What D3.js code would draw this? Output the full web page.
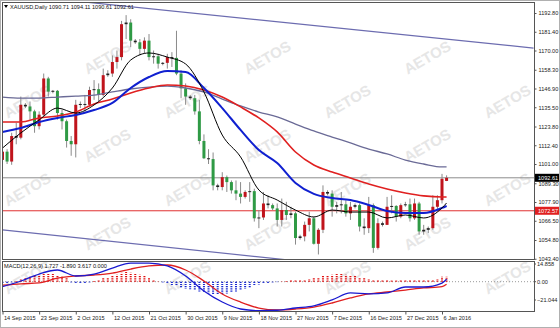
<html>
<head>
<meta charset="utf-8">
<script src="https://d3js.org/d3.v7.min.js"></script>
<style>
  body { margin:0; background:#fff; }
  svg text { font-family:"Liberation Sans", Arial, sans-serif; }
</style>
</head>
<body>
<div id="chart"></div>
<script>
// ---- data ----
var dateLabels = ["14 Sep 2015","23 Sep 2015","2 Oct 2015","12 Oct 2015","21 Oct 2015","30 Oct 2015","9 Nov 2015","18 Nov 2015","27 Nov 2015","7 Dec 2015","16 Dec 2015","27 Dec 2015","6 Jan 2016"];
var labelBars = [0,8,16,24,32,40,48,56,64,72,80,88,96];

var opens  = [1103.5,1108.5,1102.5,1118,1117,1137,1136,1133,1124,1131,1153,1145,1145.5,1132,1127,1115,1113,1137,1137.5,1137,1146,1146.5,1143,1155,1156,1163,1166,1186,1187,1176,1175,1171,1176,1166,1166.5,1162,1162.5,1166,1165.5,1156,1147,1142,1141,1133,1115,1104.5,1104,1088,1087,1093,1090,1085,1083,1081,1084,1084.5,1068,1068.5,1077,1076,1074,1067,1073,1070,1071,1056,1057,1064,1068,1052.5,1061,1084,1083,1075,1076,1076.5,1071,1075,1076,1063,1062,1076,1050,1065,1064,1075,1075.5,1069,1076,1076.5,1068,1077,1060,1061,1062,1075,1079,1090.71];
var highs  = [1111,1110,1120,1126,1142,1138,1139,1134,1133,1156,1154,1146,1146,1134,1128,1118,1140,1139,1143,1148,1152,1150,1159,1158,1167,1170,1188,1191.5,1189,1177,1177,1178,1180,1170,1168,1163,1168,1169,1182,1158,1150,1143,1143,1140,1119,1110,1108,1089,1096,1094,1091,1091,1090,1085,1090,1086,1073,1084,1082,1077,1077,1080,1078,1075,1072,1058,1066,1072,1069,1062,1088,1085,1085,1078,1084,1079,1078,1077,1077,1068,1081,1077,1068,1066,1081,1082,1076,1077,1078,1080,1080,1078,1064,1063,1082,1082,1095,1094.11];
var lows   = [1102,1101,1100.5,1113,1116,1135,1128,1120,1122,1130,1142,1144,1128,1122,1111,1106,1105,1135,1133,1136,1140,1139,1142,1154,1154,1159,1164,1177,1172,1174,1167,1168,1164,1162,1159,1161,1159,1160,1155,1141,1137,1140,1131,1113,1104,1101,1085,1085,1085,1084,1083,1079,1077,1080,1078,1066,1062,1067,1074,1073,1063,1063,1067,1068,1052,1055,1054,1060,1052,1046,1059,1082,1069,1071,1071,1069,1067,1074,1060,1058,1059,1047,1049,1063,1064,1071,1066,1068,1075,1066,1067,1058,1058,1059,1061,1072,1077,1090.61];
var closes = [1108.5,1102.5,1118,1117,1137,1136,1133,1124,1131,1153,1145,1145.5,1132,1127,1115,1113,1137,1137.5,1137,1146,1146.5,1143,1155,1156,1163,1166,1186,1187,1176,1175,1171,1176,1166,1166.5,1162,1162.5,1166,1165.5,1156,1147,1142,1141,1133,1115,1104.5,1104,1088,1087,1093,1090,1085,1083,1081,1084,1084.5,1068,1068.5,1077,1076,1074,1067,1073,1070,1071,1056,1057,1064,1068,1052.5,1061,1084,1083,1075,1076,1076.5,1071,1075,1076,1063,1062,1076,1050,1065,1064,1075,1075.5,1069,1076,1076.5,1068,1077,1060,1061,1062,1075,1079,1092,1092.61];

// moving averages, sampled every 4 bars
var maBars = [0,4,8,12,16,20,24,28,32,36,40,44,48,52,56,60,64,68,72,76,80,84,88,92,96,97];
var maBlack = [1110.7,1119.9,1127.8,1135.0,1132.0,1136.9,1147.2,1164.2,1168.5,1166.0,1161.8,1144.8,1118.6,1105.3,1085.2,1079.1,1073.0,1068.8,1073.0,1071.8,1071.8,1068.2,1070.0,1068.2,1074.3,1077.3];
var maBlue  = [1120.5,1122.9,1126.5,1129,1130.8,1133.8,1138.1,1147.2,1153.9,1157.5,1156.9,1147.2,1135,1121.7,1109.5,1101.6,1089.5,1082.8,1080.3,1079.1,1076.1,1072.4,1071.2,1071.2,1074.3,1075.5];
var maRed   = [1126.5,1126.5,1129,1130.2,1132.6,1137.5,1140.5,1144.2,1147.2,1149.0,1148.4,1146.0,1141.7,1135.7,1129.0,1120.5,1108.3,1100.4,1096.1,1092.5,1088.8,1085.8,1083.4,1081.6,1080.9,1080.9];
var maGray  = [1141.7,1141.1,1141.1,1141.7,1142.3,1142.9,1144.8,1146.6,1147.8,1148.4,1147.2,1144.8,1140.5,1136.3,1132.6,1129.6,1125.3,1121.1,1117.4,1113.8,1110.1,1107.1,1103.4,1101.0,1099.2,1099.2];

// MACD(12,26,9)
var macdMain   = [-3.5,0.5,5.5,8.4,4.1,5.5,9.8,13.4,13.4,11.3,4.1,-6.7,-14.6,-19.6,-20.8,-20.5,-18.9,-17.4,-13.1,-8.1,-8.8,-8.1,-3.8,-3.8,-1.0,1.727];
var macdSignal = [-2.5,-1.5,-0.9,2.6,4.1,4.8,6.2,9.1,11.3,12.0,8.4,0.5,-8.8,-14.6,-18.9,-20.3,-19.6,-18.2,-15.3,-11.7,-8.8,-7.4,-6.0,-4.5,-3.5,-1.89];
var macdHist = [-1.5,-1.2,-0.5,0.5,2,3,3.5,4,4.5,5.5,6,5.5,4.5,3.5,2.5,-0.5,-1.5,-1.5,-1.2,-0.5,0.5,1.5,2.5,3,4,5,6.5,7,6.5,6,5,4,2.5,1,0.2,-0.5,-1.5,-2.5,-3,-4.5,-5,-5.5,-6,-7,-8,-8.5,-9,-9.5,-9,-8.5,-8,-7,-6,-5,-4,-3,-2,-1.5,-1,-0.5,-0.3,0.2,0.5,1,1.2,1,1.5,2,2.5,3,4,4.5,5,5.5,5.5,5,4.5,4,3,2.5,2,1.5,1.2,1,1,0.8,0.8,1,1,1.2,1.5,1.5,1.5,1.2,1.5,2,3.6,3.617];

var priceTicks = [1192.80,1181.40,1170.00,1158.30,1146.90,1135.50,1123.80,1112.40,1101.00,1089.30,1077.90,1066.50,1054.80,1043.40];
var macdTicks = [14.858, 0, -21.044];
var bidPrice = 1092.61, levelPrice = 1072.57;
// channel lines as [bar, price]
var channelUpper = [[0,1204.6],[116,1171.5]];
var channelLower = [[0,1060.9],[65,1041.9]];
var titleText = "XAUUSD,Daily  1090.71 1094.11 1090.61 1092.61";
var macdText = "MACD(12,26,9) 1.727 -1.890 3.617 0.000";

// ---- layout ----
var W = 560, H = 328;
var left = 2, right = 534, mainTop = 2, mainBottom = 259, macdTop = 261, macdBottom = 311;
var upCol = "#c0141c", downCol = "#2f9a45", wickCol = "#8a8a8a";
var fs = 5.6;

var svg = d3.select("#chart").append("svg").attr("width", W).attr("height", H);
svg.append("rect").attr("width", W).attr("height", H).attr("fill", "#fff");

var x = d3.scaleLinear().domain([0, 96]).range([2.5, 442]);
var y = d3.scaleLinear().domain([1043.25, 1198.88]).range([mainBottom, 3]);
var ym = d3.scaleLinear().domain([-21.044, 14.858]).range([macdBottom, macdTop]);

// watermark, tiled, kept inside the picture
var wm = svg.append("g").attr("fill", "#e6e6e6").attr("font-weight", "bold").attr("font-size", 15);
for (var r = 0; r < 8; r++) {
  for (var c = -1; c < 5; c++) {
    var cx = 30 + c * 160 + (r % 2) * 80, cy = 18 + r * 44;
    if (cx < 30 || cx > W - 30 || cy < 22 || cy > H - 22) continue;
    wm.append("text").attr("transform", "translate(" + cx + "," + cy + ") rotate(-30)")
      .attr("text-anchor", "middle").text("AETOS");
  }
}

var defs = svg.append("defs");
defs.append("clipPath").attr("id", "cm").append("rect")
  .attr("x", left).attr("y", mainTop).attr("width", right - left).attr("height", mainBottom - mainTop);
defs.append("clipPath").attr("id", "cd").append("rect")
  .attr("x", left).attr("y", macdTop).attr("width", right - left).attr("height", macdBottom - macdTop);

var main = svg.append("g").attr("clip-path", "url(#cm)");

// channel
var chLine = d3.line().x(function(d){ return x(d[0]); }).y(function(d){ return y(d[1]); });
[channelUpper, channelLower].forEach(function(ch){
  main.append("path").attr("d", chLine(ch)).attr("fill", "none")
    .attr("stroke", "#6c6cb0").attr("stroke-width", 1.2);
});

// horizontal levels
main.append("line").attr("x1", left).attr("x2", right).attr("y1", y(bidPrice)).attr("y2", y(bidPrice))
  .attr("stroke", "#8c8c8c").attr("stroke-width", 1);
main.append("line").attr("x1", left).attr("x2", right).attr("y1", y(levelPrice)).attr("y2", y(levelPrice))
  .attr("stroke", "#e03030").attr("stroke-width", 1);

// candles
var bars = d3.range(opens.length);
main.append("g").selectAll("line").data(bars).join("line")
  .attr("x1", function(i){ return x(i); }).attr("x2", function(i){ return x(i); })
  .attr("y1", function(i){ return y(highs[i]); }).attr("y2", function(i){ return y(lows[i]); })
  .attr("stroke", wickCol).attr("stroke-width", 1);
main.append("g").selectAll("rect").data(bars).join("rect")
  .attr("x", function(i){ return x(i) - 1.5; }).attr("width", 3)
  .attr("y", function(i){ return y(Math.max(opens[i], closes[i])); })
  .attr("height", function(i){ return Math.max(1, Math.abs(y(opens[i]) - y(closes[i]))); })
  .attr("fill", function(i){
    if (Math.abs(closes[i] - opens[i]) < 1.2) return "#222";
    return closes[i] > opens[i] ? upCol : downCol; });

// moving averages
var maLine = d3.line().curve(d3.curveMonotoneX)
  .x(function(d, i){ return x(maBars[i]); }).y(function(d){ return y(d); });
[[maGray, "#6a6a96", 1.3], [maRed, "#e02020", 1.6], [maBlue, "#1020d0", 2], [maBlack, "#000", 1]].forEach(function(m){
  main.append("path").attr("d", maLine(m[0])).attr("fill", "none")
    .attr("stroke", m[1]).attr("stroke-width", m[2]);
});

// MACD panel
var md = svg.append("g").attr("clip-path", "url(#cd)");
md.append("line").attr("x1", left).attr("x2", right).attr("y1", ym(0)).attr("y2", ym(0))
  .attr("stroke", "#999").attr("stroke-dasharray", "1,2");
md.append("g").selectAll("line").data(bars).join("line")
  .attr("x1", function(i){ return x(i); }).attr("x2", function(i){ return x(i); })
  .attr("y1", ym(0)).attr("y2", function(i){ return ym(macdHist[i]); })
  .attr("stroke", function(i){ return macdHist[i] >= 0 ? "#e01010" : "#1a2ad0"; })
  .attr("stroke-width", 2).attr("stroke-dasharray", "1.2,1");
var mLine = d3.line().curve(d3.curveMonotoneX)
  .x(function(d, i){ return x(maBars[i]); }).y(function(d){ return ym(d); });
md.append("path").attr("d", mLine(macdSignal)).attr("fill", "none").attr("stroke", "#e02020").attr("stroke-width", 1.3);
md.append("path").attr("d", mLine(macdMain)).attr("fill", "none").attr("stroke", "#1a1ad0").attr("stroke-width", 1.3);

// frames
svg.append("rect").attr("x", 0.5).attr("y", 0.5).attr("width", W - 1).attr("height", H - 1)
  .attr("fill", "none").attr("stroke", "#b0b0b0");
[[mainTop, mainBottom], [macdTop, macdBottom]].forEach(function(p){
  svg.append("rect").attr("x", left + 0.5).attr("y", p[0] + 0.5).attr("width", right - left)
    .attr("height", p[1] - p[0]).attr("fill", "none").attr("stroke", "#555");
});

// price axis
var ay = svg.append("g").attr("transform", "translate(" + (right + 0.5) + ",0)")
  .call(d3.axisRight(y).tickValues(priceTicks).tickSize(2).tickPadding(2).tickFormat(d3.format(".2f")));
ay.select(".domain").remove();
ay.selectAll("text").attr("font-size", fs).attr("fill", "#222").attr("font-family", null);
ay.selectAll("line").attr("stroke", "#555");

// price boxes
[[bidPrice, "#000"], [levelPrice, "#e02020"]].forEach(function(b){
  var g = svg.append("g").attr("transform", "translate(" + (right + 1) + "," + y(b[0]) + ")");
  g.append("rect").attr("x", 0).attr("y", -4).attr("width", 24).attr("height", 8).attr("fill", b[1]);
  g.append("text").attr("x", 3).attr("y", 2).attr("font-size", fs).attr("fill", "#fff").text(b[0].toFixed(2));
});

// MACD axis labels
var mfmt = function(v){ return v === 0 ? "0.00" : d3.format(".3f")(v); };
svg.append("g").selectAll("text").data(macdTicks).join("text")
  .attr("x", right + 3)
  .attr("y", function(v, i){ return i === 0 ? ym(v) + 5 : (i === 2 ? ym(v) - 9 : ym(v) + 2); })
  .attr("font-size", fs).attr("fill", "#222").text(mfmt);
svg.append("g").selectAll("line").data(macdTicks).join("line")
  .attr("x1", right).attr("x2", right + 2)
  .attr("y1", function(v, i){ return i === 0 ? ym(v) + 3 : (i === 2 ? ym(v) - 11 : ym(v)); })
  .attr("y2", function(v, i){ return i === 0 ? ym(v) + 3 : (i === 2 ? ym(v) - 11 : ym(v)); })
  .attr("stroke", "#555");

// time axis
var ax = svg.append("g").attr("transform", "translate(0," + (macdBottom + 0.5) + ")")
  .call(d3.axisBottom(x).tickValues(labelBars).tickSize(3).tickPadding(2)
    .tickFormat(function(d, i){ return dateLabels[i]; }));
ax.select(".domain").remove();
ax.selectAll("line").attr("stroke", "#555");
ax.selectAll("text").attr("font-size", fs).attr("fill", "#222").attr("font-family", null)
  .attr("text-anchor", "start").attr("dx", 1);

// titles
svg.append("path").attr("d", "M4,5 L8,5 L6,8 Z").attr("fill", "#000");
svg.append("text").attr("x", 10).attr("y", 9).attr("font-size", fs).attr("fill", "#111").text(titleText);
svg.append("text").attr("x", 4).attr("y", 268).attr("font-size", fs).attr("fill", "#111").text(macdText);
</script>
</body>
</html>
